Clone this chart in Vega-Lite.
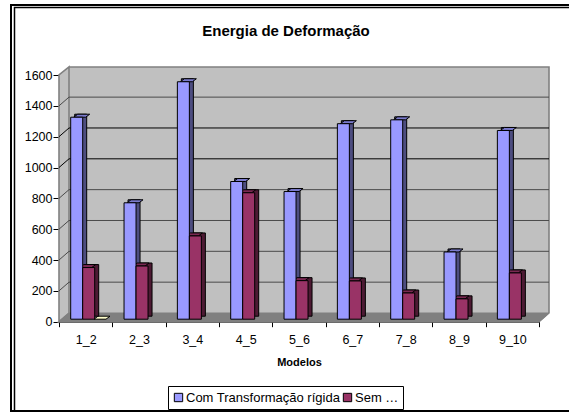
{
"$schema":"https://vega.github.io/schema/vega-lite/v6.json",
"width":480,"height":246.7,
"autosize":{"type":"none"},
"padding":{"left":59,"top":75,"right":30,"bottom":90.3},
"background":"white",
"view":{"stroke":null},
"config":{"font":"Liberation Sans"},
"title":{"text":"Energia de Deformação","font":"Liberation Sans","fontSize":15,"fontWeight":"bold","color":"#000000","anchor":"middle","dx":-13,"offset":-38},
"data":{"values":[
{"modelo":"1_2","serie":"Com Transformação rígida","valor":1310},
{"modelo":"1_2","serie":"Sem …","valor":335},
{"modelo":"2_3","serie":"Com Transformação rígida","valor":755},
{"modelo":"2_3","serie":"Sem …","valor":345},
{"modelo":"3_4","serie":"Com Transformação rígida","valor":1540},
{"modelo":"3_4","serie":"Sem …","valor":540},
{"modelo":"4_5","serie":"Com Transformação rígida","valor":893},
{"modelo":"4_5","serie":"Sem …","valor":820},
{"modelo":"5_6","serie":"Com Transformação rígida","valor":828},
{"modelo":"5_6","serie":"Sem …","valor":250},
{"modelo":"6_7","serie":"Com Transformação rígida","valor":1268},
{"modelo":"6_7","serie":"Sem …","valor":248},
{"modelo":"7_8","serie":"Com Transformação rígida","valor":1293},
{"modelo":"7_8","serie":"Sem …","valor":170},
{"modelo":"8_9","serie":"Com Transformação rígida","valor":436},
{"modelo":"8_9","serie":"Sem …","valor":132},
{"modelo":"9_10","serie":"Com Transformação rígida","valor":1224},
{"modelo":"9_10","serie":"Sem …","valor":300}
]},
"resolve":{"scale":{"xOffset":"independent"}},
"encoding":{
"x":{"field":"modelo","type":"nominal","sort":null,"scale":{"paddingInner":0,"paddingOuter":0},
"axis":{"title":"Modelos","titleFont":"Liberation Sans","titleFontSize":11,"titleFontWeight":"bold","titleColor":"#000","titlePadding":10,"labelAngle":0,"labelFont":"Liberation Sans","labelFontSize":12.5,"labelColor":"#000","labelPadding":7,"tickBand":"extent","tickColor":"#000","tickSize":5,"domainColor":"#000","grid":false}},
"y":{"field":"valor","type":"quantitative","scale":{"domain":[0,1600],"nice":false},
"axis":{"title":null,"values":[0,200,400,600,800,1000,1200,1400,1600],"format":"d","labelFont":"Liberation Sans","labelFontSize":12.5,"labelColor":"#000","labelPadding":1,"tickColor":"#000","tickSize":6,"domainColor":"#333","grid":false}}
},
"layer":[
{"data":{"values":[{"v":0}]},"mark":{"type":"point","shape":"M270,-316.7L-288,-316.7L-288,89.3L270,89.3","size":4,"filled":false,"stroke":"#000","strokeWidth":2,"opacity":1,"clip":false},"encoding":{"x":{"value":240},"y":{"field":"v","type":"quantitative"}}},
{"data":{"values":[{"v":0}]},"mark":{"type":"point","shape":"M270,-314.2L-284.5,-314.2L-284.5,89.3","size":4,"filled":false,"stroke":"#000","strokeWidth":1.5,"opacity":1},"encoding":{"x":{"value":240},"y":{"field":"v","type":"quantitative"}}},
{"data":{"values":[{"v":0}]},"mark":{"type":"point","shape":"M-240,0L-230,-8.7L-230,-254.7L250,-254.7L250,-8.7L240,0ZM-240,0L-240,-246.7L-230,-254.7L-230,-8.7Z","size":4,"filled":true,"fill":"#c0c0c0","stroke":"#808080","strokeWidth":1.6,"opacity":1},"encoding":{"x":{"value":240},"y":{"field":"v","type":"quantitative"}}},
{"data":{"values":[{"v":200},{"v":400},{"v":600},{"v":800},{"v":1000},{"v":1200},{"v":1400}]},"mark":{"type":"point","shape":"M-240,0L-230,-8.7L250,-8.7","size":4,"filled":false,"strokeWidth":1,"opacity":1},"encoding":{"x":{"value":240},"y":{"field":"v","type":"quantitative"},"stroke":{"condition":{"test":"datum.v==1000||datum.v==1200","value":"#000"},"value":"#4a4a4a"}}},
{"data":{"values":[{"v":0}]},"mark":{"type":"point","shape":"M-240,0L-230,-8.7L250,-8.7L240,0Z","size":4,"filled":true,"fill":"#808080","stroke":"#808080","strokeWidth":1,"opacity":1},"encoding":{"x":{"value":240},"y":{"field":"v","type":"quantitative"}}},
{"data":{"values":[{"v":0}]},"mark":{"type":"point","shape":"M-205,-2.5L-193,-2.5L-189,-5.5L-201,-5.5Z","size":4,"filled":true,"fill":"#ffffcc","stroke":"#000","strokeWidth":1,"opacity":1},"encoding":{"x":{"value":240},"y":{"field":"v","type":"quantitative"}}},
{"mark":{"type":"bar","yOffset":-5.5,"y2Offset":-5.5,"stroke":"#000","strokeWidth":1},"encoding":{"xOffset":{"field":"serie","type":"nominal","sort":null,"scale":{"range":[15.7,39.7],"paddingInner":0,"paddingOuter":0}},"fill":{"condition":{"test":"datum.serie==='Sem …'","value":"#4d1a33"},"value":"#4d4d80"}}},
{"mark":{"type":"point","shape":"M0,0L12,0L16,-3L4,-3Z","size":4,"filled":true,"yOffset":-2.5,"stroke":"#000","strokeWidth":1,"opacity":1},"encoding":{"xOffset":{"field":"serie","type":"nominal","sort":null,"scale":{"range":[11.7,23.7]}},"fill":{"condition":{"test":"datum.serie==='Sem …'","value":"#7a2952"},"value":"#7a7acc"}}},
{"mark":{"type":"bar","yOffset":-2.5,"y2Offset":-2.5,"stroke":"#000","strokeWidth":1},"encoding":{"xOffset":{"field":"serie","type":"nominal","sort":null,"scale":{"range":[11.7,35.7],"paddingInner":0,"paddingOuter":0}},"fill":{"field":"serie","type":"nominal","sort":null,"scale":{"domain":["Com Transformação rígida","Sem …"],"range":["#9999ff","#993366"]},"legend":{"orient":"none","legendX":109,"legendY":311,"direction":"horizontal","columns":2,"title":null,"strokeColor":"#000","fillColor":"#fff","padding":4,"symbolType":"square","symbolSize":70,"symbolStrokeColor":"#000","symbolStrokeWidth":1,"symbolOpacity":1,"labelFont":"Liberation Sans","labelFontSize":13,"labelColor":"#000","columnPadding":0,"labelOffset":1,"labelLimit":200,"clipHeight":15}}}}
]
}
